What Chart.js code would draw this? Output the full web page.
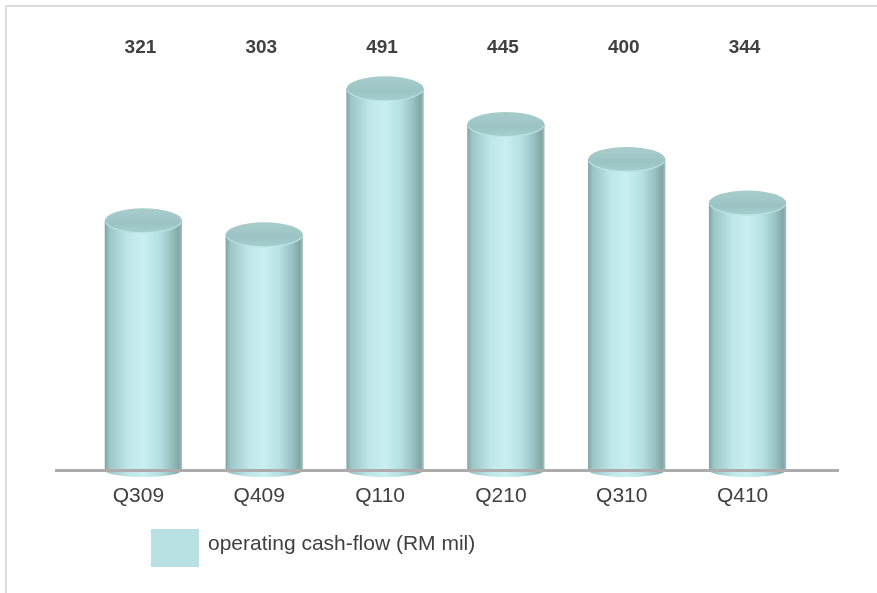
<!DOCTYPE html>
<html>
<head>
<meta charset="utf-8">
<script src="https://cdn.jsdelivr.net/npm/chart.js@4"></script>
<style>
  html, body { margin: 0; padding: 0; background: #fff; }
  #wrap { width: 877px; height: 593px; position: relative; }
</style>
</head>
<body>
<div id="wrap"><canvas id="cashChart" width="877" height="593"></canvas></div>
<script>
// data
const quarters = ['Q309', 'Q409', 'Q110', 'Q210', 'Q310', 'Q410'];
const cashFlow = [321, 303, 491, 445, 400, 344];
const seriesLabel = 'operating cash-flow (RM mil)';

const FONT = '"Liberation Sans", Arial, sans-serif';
const TEXT = '#404040';

// cylinders, labels, axis line, frame and legend
const cylinderPlugin = {
    id: 'cylinders',
    beforeDraw(chart) {
        const c = chart.ctx;
        c.save();
        c.fillStyle = '#fff';
        c.fillRect(0, 0, chart.width, chart.height);
        // frame (top + left only visible)
        c.fillStyle = '#dcdcdc';
        c.fillRect(5, 5, chart.width - 5, 2);
        c.fillRect(5, 5, 2, chart.height - 5);
        c.restore();
    },
    afterDatasetsDraw(chart) {
        const c = chart.ctx;
        const meta = chart.getDatasetMeta(0);
        const area = chart.chartArea;
        c.save();
        meta.data.forEach((bar) => {
            const w = bar.width;
            const left = bar.x - w / 2;
            const right = bar.x + w / 2;
            const top = bar.y;
            const base = bar.base;
            const rx = w / 2;
            const ryTop = 12.5;
            const ryBot = 7;

            // body
            const g = c.createLinearGradient(left, 0, right, 0);
            g.addColorStop(0, '#7fa3a3');
            g.addColorStop(0.06, '#9cc5c6');
            g.addColorStop(0.3, '#bfe6e8');
            g.addColorStop(0.5, '#c9eff1');
            g.addColorStop(0.7, '#b6e0e2');
            g.addColorStop(0.87, '#96bfc0');
            g.addColorStop(0.96, '#82a6a7');
            g.addColorStop(1, '#a4c2c2');
            c.beginPath();
            c.moveTo(left, top);
            c.lineTo(left, base);
            c.ellipse(bar.x, base, rx, ryBot, 0, Math.PI, 0, true);
            c.lineTo(right, top);
            c.closePath();
            c.fillStyle = g;
            c.fill();

            // top cap
            const tg = c.createLinearGradient(0, top - ryTop, 0, top + ryTop);
            tg.addColorStop(0, '#a9cdcd');
            tg.addColorStop(0.6, '#9cc3c4');
            tg.addColorStop(1, '#a6cfd0');
            c.beginPath();
            c.ellipse(bar.x, top, rx, ryTop, 0, 0, Math.PI * 2);
            c.fillStyle = tg;
            c.fill();
            c.beginPath();
            c.ellipse(bar.x, top, rx - 0.5, ryTop - 0.5, 0, 0.15, Math.PI - 0.15);
            c.strokeStyle = 'rgba(200,238,240,0.7)';
            c.lineWidth = 1.2;
            c.stroke();
        });

        // axis line
        c.fillStyle = '#acacac';
        c.fillRect(55, area.bottom - 1, 784, 3);

        // value labels at a fixed row on top
        c.fillStyle = TEXT;
        c.font = 'bold 19px ' + FONT;
        c.textAlign = 'center';
        c.textBaseline = 'middle';
        meta.data.forEach((bar, i) => {
            c.fillText(String(cashFlow[i]), bar.x - 3, 48);
        });

        // category labels
        c.font = '21px ' + FONT;
        const xs = chart.scales.x;
        quarters.forEach((q, i) => {
            c.fillText(q, xs.getPixelForValue(i) - 5, 496);
        });

        // legend
        c.fillStyle = '#b9e0e2';
        c.fillRect(151, 529, 48, 38);
        c.fillStyle = TEXT;
        c.textAlign = 'left';
        c.font = '21px ' + FONT;
        c.fillText(chart.data.datasets[0].label, 208, 544);
        c.restore();
    }
};

new Chart(document.getElementById('cashChart'), {
    type: 'bar',
    data: {
        labels: quarters,
        datasets: [{
            label: seriesLabel,
            data: cashFlow,
            backgroundColor: 'rgba(0,0,0,0)',
            borderWidth: 0,
            categoryPercentage: 1,
            barPercentage: 0.64
        }]
    },
    options: {
        responsive: false,
        animation: false,
        layout: { padding: { left: 83, right: 69, top: 43, bottom: 123 } },
        plugins: { legend: { display: false }, tooltip: { enabled: false } },
        scales: {
            x: { display: false },
            y: { display: false, min: 0, max: 550 }
        }
    },
    plugins: [cylinderPlugin]
});
</script>
</body>
</html>
